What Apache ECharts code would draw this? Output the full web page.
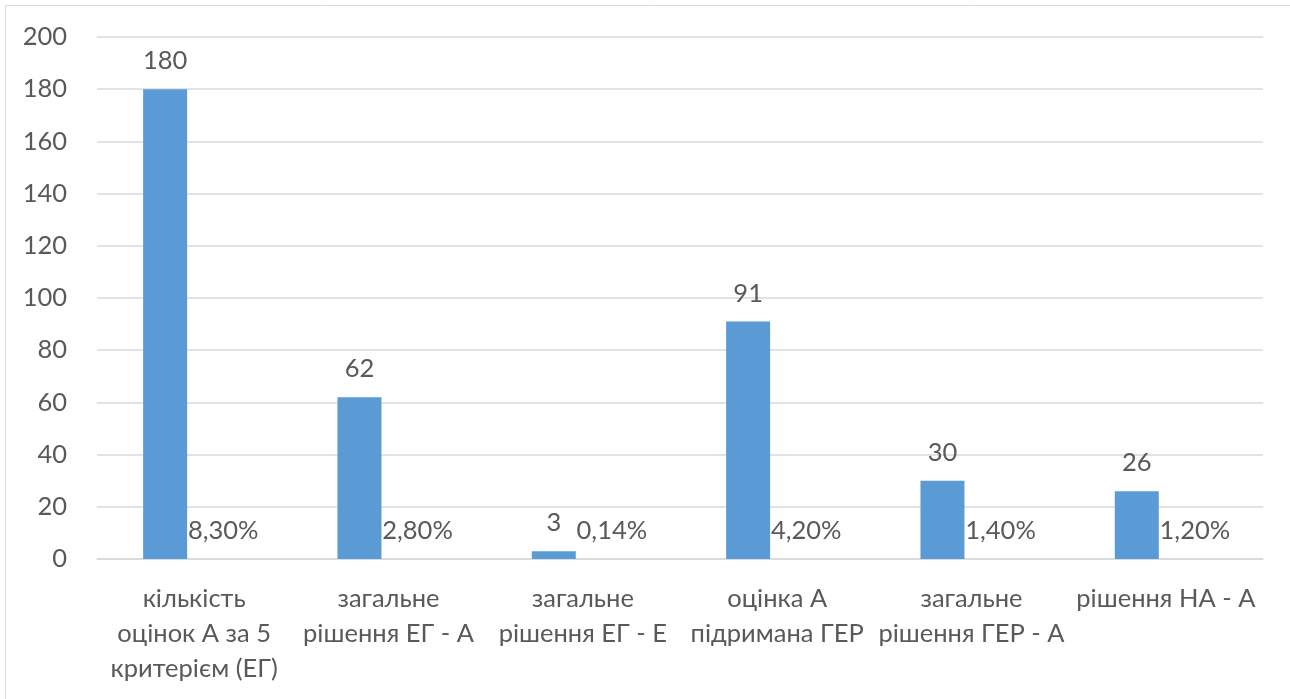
<!DOCTYPE html>
<html>
<head>
<meta charset="utf-8">
<script src="https://cdn.jsdelivr.net/npm/echarts@6/dist/echarts.min.js"></script>
<style>
  html, body { margin: 0; padding: 0; background: #fff; }
  #chart { width: 1290px; height: 699px; }
</style>
</head>
<body>
<div id="chart"></div>
<script>
// категорії (з переносами рядків як у підписах)
const categories = [
    'кількість\nоцінок А за 5\nкритерієм (ЕГ)',
    'загальне\nрішення ЕГ - А',
    'загальне\nрішення ЕГ - Е',
    'оцінка А\nпідримана ГЕР',
    'загальне\nрішення ГЕР - А',
    'рішення НА - А'
]
// кількість
const counts = [180, 62, 3, 91, 30, 26]
// частка (як дріб)
const shares = [0.083, 0.028, 0.0014, 0.042, 0.014, 0.012]
const yTicks = { min: 0, max: 200, interval: 20 }

const textColor = '#595959'
const gridColor = '#D9D9D9'
const font = 'Lato, "Open Sans", sans-serif'
const fontSize = 25.5

const myChart = echarts.init(document.getElementById('chart'))

const option = {
    animation: false,
    backgroundColor: '#fff',
    textStyle: { fontFamily: font },
    graphic: [{
        type: 'rect',
        shape: { x: 5.5, y: 5.5, width: 1290, height: 700 },
        style: { fill: 'none', stroke: gridColor, lineWidth: 1 },
        silent: true
    }],
    grid: { left: 97, right: 27, top: 37, bottom: 140 },
    xAxis: {
        type: 'category',
        data: categories,
        axisLine: { lineStyle: { color: gridColor, width: 1.5 } },
        axisTick: { show: false },
        axisLabel: {
            color: textColor,
            fontSize: fontSize,
            fontFamily: font,
            lineHeight: 35,
            margin: 22,
            interval: 0
        }
    },
    yAxis: {
        type: 'value',
        min: yTicks.min,
        max: yTicks.max,
        interval: yTicks.interval,
        axisLine: { show: false },
        axisTick: { show: false },
        splitLine: { lineStyle: { color: gridColor, width: 1.5 } },
        axisLabel: { color: textColor, fontSize: fontSize, fontFamily: font, margin: 30 }
    },
    series: [
        {
            name: 'кількість',
            type: 'bar',
            data: counts,
            barWidth: 44,
            barGap: '32%',
            itemStyle: { color: '#5B9BD5' },
            label: {
                show: true,
                position: 'top',
                distance: 15,
                color: textColor,
                fontSize: fontSize,
                fontFamily: font
            }
        },
        {
            name: 'частка',
            type: 'bar',
            data: shares,
            barWidth: 44,
            // висота майже нульова, на оригіналі стовпчик не видно
            itemStyle: { color: 'rgba(237,125,49,0)' },
            label: {
                show: true,
                position: 'top',
                distance: 15,
                color: textColor,
                fontSize: fontSize,
                fontFamily: font,
                formatter: (p) => (p.value * 100).toFixed(2).replace('.', ',') + '%'
            }
        }
    ]
}

myChart.setOption(option)
</script>
</body>
</html>
